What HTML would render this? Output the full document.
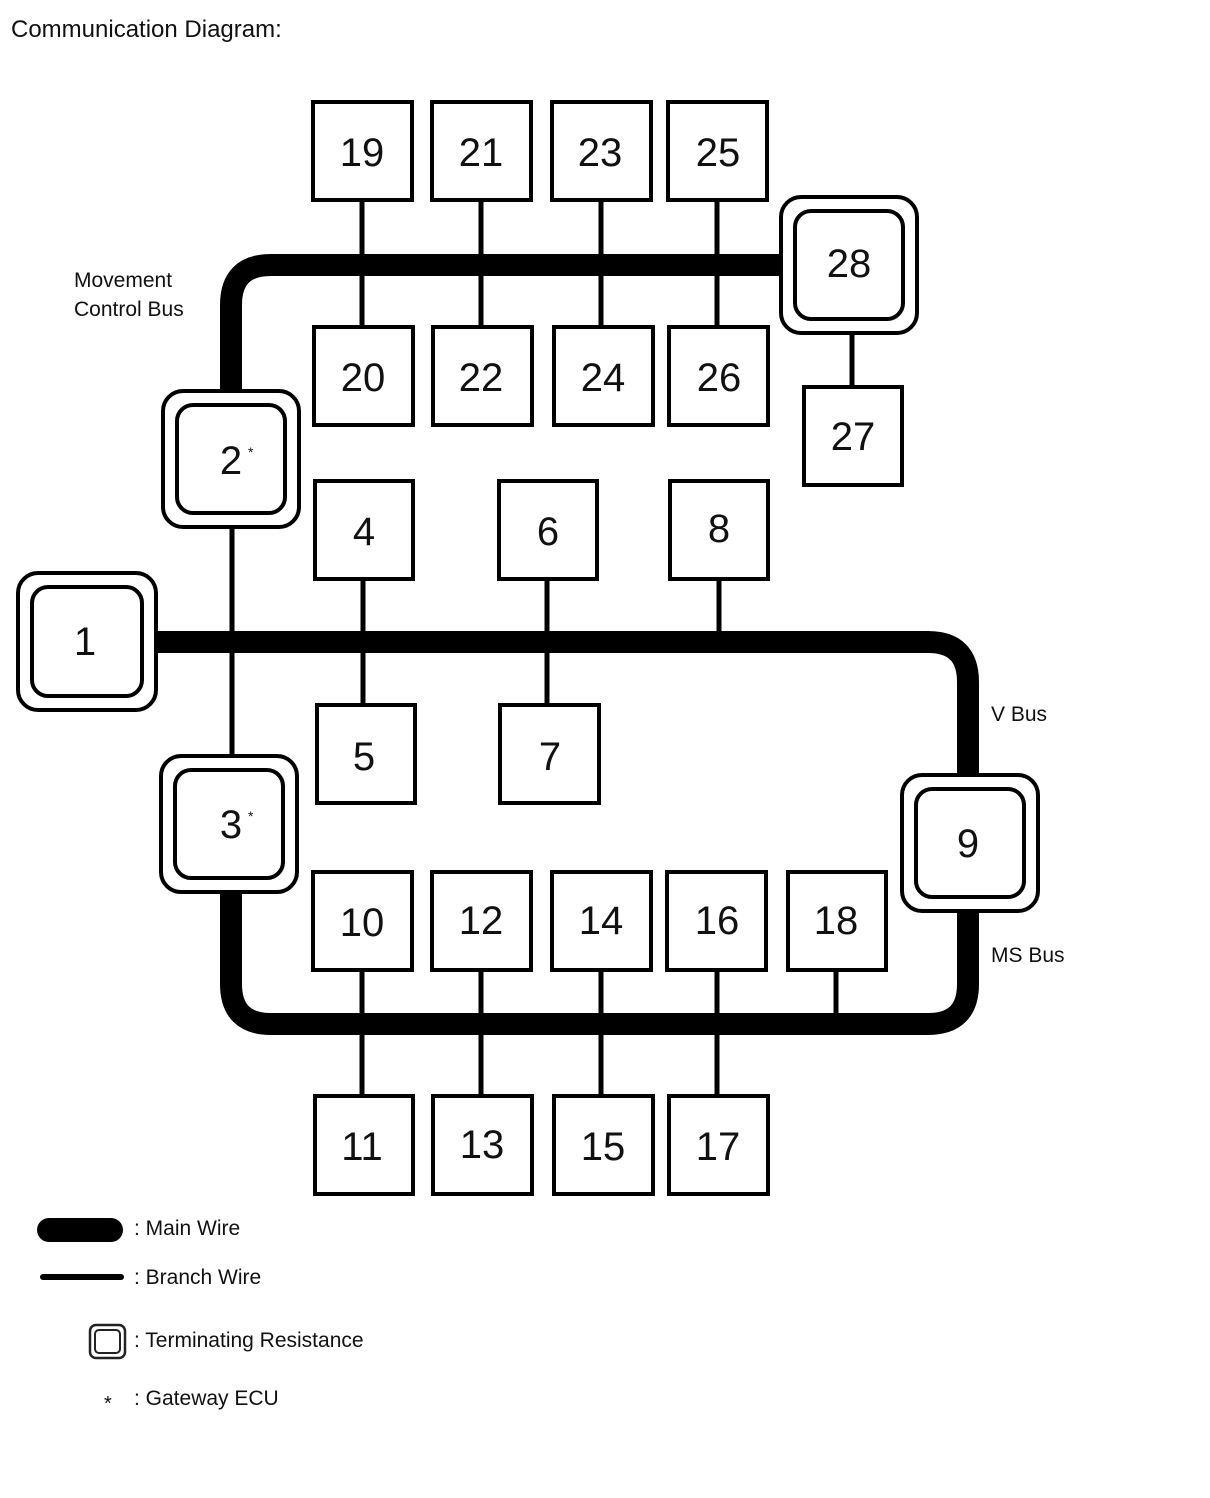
<!DOCTYPE html>
<html><head><meta charset="utf-8"><style>
html,body{margin:0;padding:0;background:#fff;}
svg{display:block;}
text{font-family:"Liberation Sans",sans-serif;fill:#111;}
</style></head><body>
<svg width="1210" height="1498" viewBox="0 0 1210 1498" xmlns="http://www.w3.org/2000/svg">
<text x="11" y="37" font-size="24">Communication Diagram:</text>
<g fill="none" stroke="#000" stroke-width="22">
<path d="M231 395 V305 Q231 265 271 265 H785"/>
<path d="M150 642 H928 Q968 642 968 682 V780"/>
<path d="M231 888 V984 Q231 1024 271 1024 H928 Q968 1024 968 984 V905"/>
</g>
<g stroke="#000" stroke-width="5">
<line x1="362" y1="201" x2="362" y2="326"/>
<line x1="481" y1="201" x2="481" y2="326"/>
<line x1="601" y1="201" x2="601" y2="326"/>
<line x1="717" y1="201" x2="717" y2="326"/>
<line x1="852" y1="334" x2="852" y2="386"/>
<line x1="232" y1="528" x2="232" y2="755"/>
<line x1="363" y1="580" x2="363" y2="704"/>
<line x1="547" y1="580" x2="547" y2="704"/>
<line x1="719" y1="580" x2="719" y2="642"/>
<line x1="362" y1="971" x2="362" y2="1095"/>
<line x1="481" y1="971" x2="481" y2="1095"/>
<line x1="601" y1="971" x2="601" y2="1095"/>
<line x1="717" y1="971" x2="717" y2="1095"/>
<line x1="836" y1="971" x2="836" y2="1024"/>
</g>
<g fill="#fff" stroke="#000" stroke-width="4">
<rect x="313" y="102" width="99" height="98"/>
<rect x="432" y="102" width="99" height="98"/>
<rect x="552" y="102" width="99" height="98"/>
<rect x="668" y="102" width="99" height="98"/>
<rect x="314" y="327" width="99" height="98"/>
<rect x="433" y="327" width="99" height="98"/>
<rect x="554" y="327" width="99" height="98"/>
<rect x="669" y="327" width="99" height="98"/>
<rect x="804" y="387" width="98" height="98"/>
<rect x="315" y="481" width="98" height="98"/>
<rect x="499" y="481" width="98" height="98"/>
<rect x="670" y="481" width="98" height="98"/>
<rect x="317" y="705" width="98" height="98"/>
<rect x="500" y="705" width="99" height="98"/>
<rect x="313" y="872" width="99" height="98"/>
<rect x="432" y="872" width="99" height="98"/>
<rect x="552" y="872" width="99" height="98"/>
<rect x="667" y="872" width="99" height="98"/>
<rect x="788" y="872" width="98" height="98"/>
<rect x="315" y="1096" width="98" height="98"/>
<rect x="433" y="1096" width="99" height="98"/>
<rect x="554" y="1096" width="99" height="98"/>
<rect x="669" y="1096" width="99" height="98"/>
</g>
<g fill="#fff" stroke="#000" stroke-width="4">
<rect x="781" y="197" width="136" height="136" rx="20"/>
<rect x="795" y="211" width="108" height="108" rx="16"/>
<rect x="163" y="391" width="136" height="136" rx="20"/>
<rect x="177" y="405" width="108" height="108" rx="16"/>
<rect x="18" y="573" width="138" height="137" rx="20"/>
<rect x="32" y="587" width="110" height="109" rx="16"/>
<rect x="161" y="756" width="136" height="136" rx="20"/>
<rect x="175" y="770" width="108" height="108" rx="16"/>
<rect x="902" y="775" width="136" height="136" rx="20"/>
<rect x="916" y="789" width="108" height="108" rx="16"/>
</g>
<g font-size="40" text-anchor="middle">
<text x="362" y="166">19</text><text x="481" y="166">21</text><text x="600" y="166">23</text><text x="718" y="166">25</text>
<text x="363" y="391">20</text><text x="481" y="391">22</text><text x="603" y="391">24</text><text x="719" y="391">26</text>
<text x="853" y="450">27</text><text x="849" y="277">28</text>
<text x="364" y="545">4</text><text x="548" y="545">6</text><text x="719" y="542">8</text>
<text x="364" y="770">5</text><text x="550" y="770">7</text>
<text x="362" y="936">10</text><text x="481" y="934">12</text><text x="601" y="934">14</text><text x="717" y="934">16</text><text x="836" y="934">18</text>
<text x="362" y="1160">11</text><text x="482" y="1158">13</text><text x="603" y="1160">15</text><text x="718" y="1160">17</text>
<text x="85" y="655">1</text><text x="968" y="857">9</text>
<text x="231" y="474">2</text><text x="231" y="838">3</text>
</g>
<text x="248" y="457" font-size="14">*</text>
<text x="248" y="821" font-size="14">*</text>
<g font-size="21">
<text x="74" y="287">Movement</text>
<text x="74" y="316">Control Bus</text>
<text x="991" y="721">V Bus</text>
<text x="991" y="962">MS Bus</text>
<text x="134" y="1235">: Main Wire</text>
<text x="134" y="1284">: Branch Wire</text>
<text x="134" y="1347">: Terminating Resistance</text>
<text x="134" y="1405">: Gateway ECU</text>
<text x="104" y="1410" font-size="20">*</text>
</g>
<rect x="37" y="1218" width="86" height="24" rx="12" fill="#000"/>
<rect x="40" y="1274" width="84" height="6" rx="3" fill="#000"/>
<rect x="90" y="1325" width="35" height="33" rx="6" fill="#fff" stroke="#222" stroke-width="2.5"/>
<rect x="95" y="1330" width="25" height="23" rx="4" fill="#fff" stroke="#222" stroke-width="2"/>
</svg>
</body></html>
